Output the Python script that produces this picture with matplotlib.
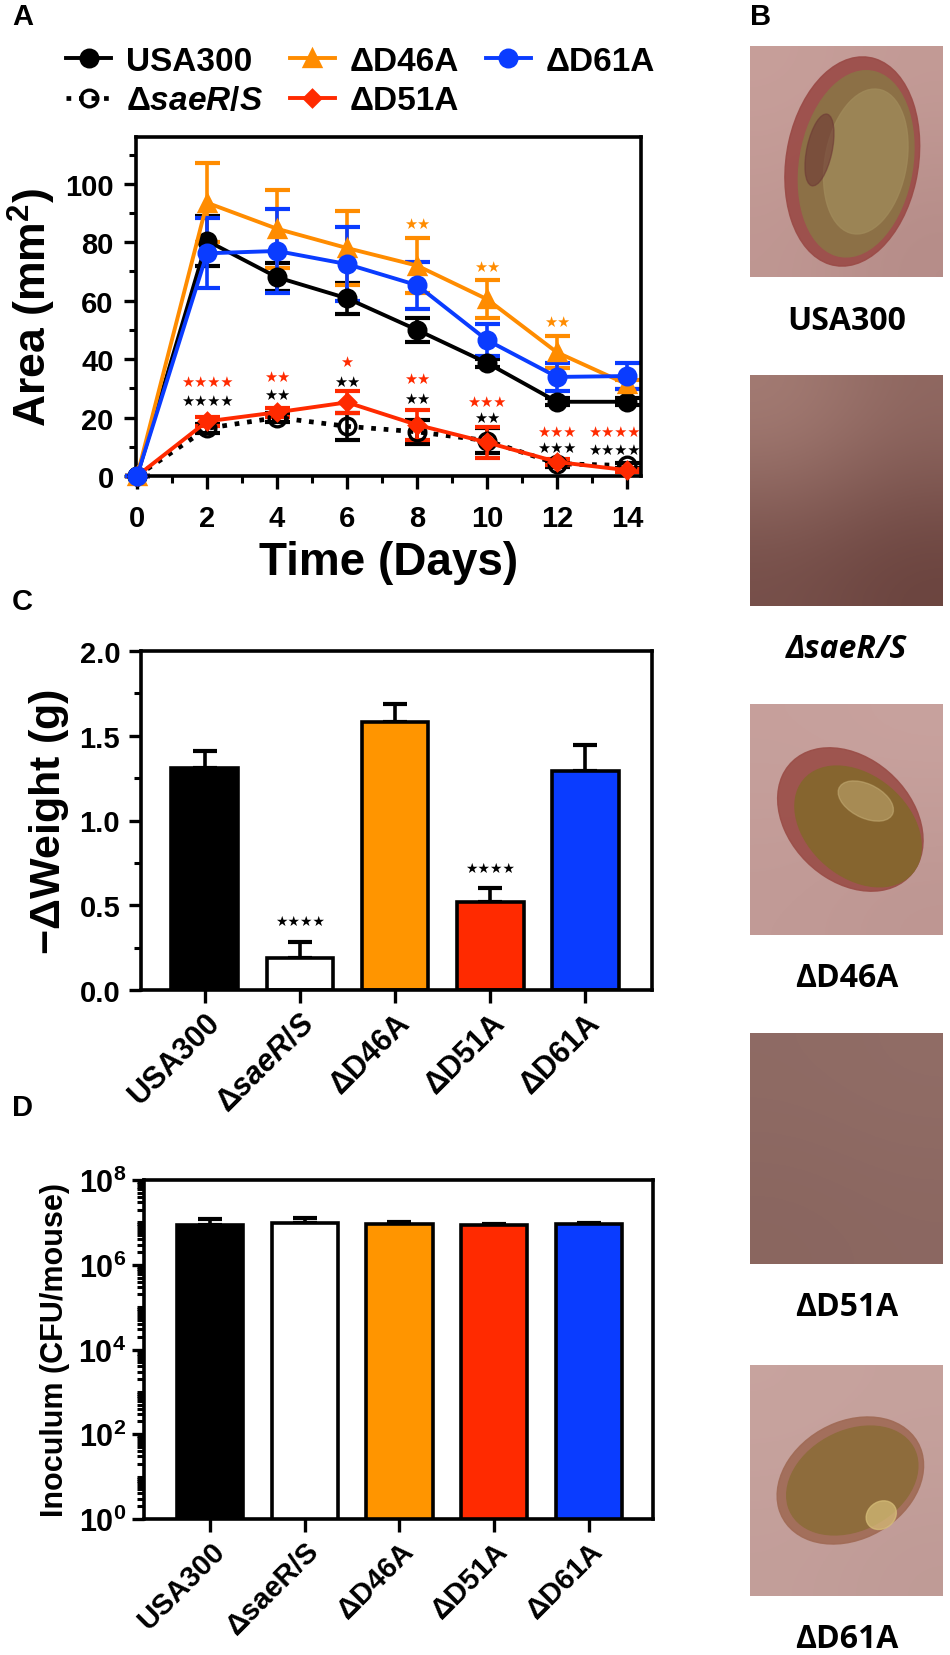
import numpy as np
import matplotlib
matplotlib.use("Agg")
import matplotlib.pyplot as plt
from matplotlib.patches import Ellipse
from matplotlib.colors import LinearSegmentedColormap
from matplotlib.ticker import MultipleLocator, LogLocator, NullFormatter, FixedLocator, FormatStrFormatter

plt.rcParams["font.family"] = ["Liberation Sans", "DejaVu Sans"]
plt.rcParams["font.weight"] = "bold"
plt.rcParams["mathtext.fontset"] = "custom"
plt.rcParams["mathtext.rm"] = "Liberation Sans:bold"
plt.rcParams["mathtext.bf"] = "Liberation Sans:bold"
plt.rcParams["mathtext.it"] = "Liberation Sans:bold:italic"

# panel A: wound area over time
days = [0, 2, 4, 6, 8, 10, 12, 14]
usa300 = [0, 80.5, 68, 60.8, 50, 38.7, 25.4, 25.4]
usa300_err = [0, 8.5, 4.8, 5.2, 4.2, 1.5, 1.2, 1.2]
saers = [0, 16.3, 20, 17, 15.1, 12.1, 4.2, 3.6]
saers_err = [0, 1.5, 1.5, 4.6, 4.2, 4.2, 1, 1]
d46a = [0, 93.5, 84.6, 78, 72, 60.5, 42.3, 31.4]
d46a_err = [0, 13.5, 13.4, 12.7, 9.5, 6.5, 5.5, 1.5]
d51a = [0, 18.7, 21.8, 25.2, 17.5, 11.5, 4.8, 2]
d51a_err = [0, 1.5, 1.5, 3.8, 5.1, 5.2, 1, 0.5]
d61a = [0, 76.2, 77, 72.5, 65.3, 46.5, 33.9, 34.2]
d61a_err = [0, 12, 14.5, 12.7, 8, 5.5, 4.8, 4.5]

star_days = [2, 4, 6, 8, 10, 12, 13.65]
red_stars = ["****", "**", "*", "**", "***", "***", "****"]
red_star_y = [32.3, 34.2, 39.3, 33.3, 25.4, 15.4, 15.4]
black_stars = ["****", "**", "**", "**", "**", "***", "****"]
black_star_y = [25.8, 27.8, 32.3, 26.6, 20, 9.7, 9.1]
orange_star_days = [8, 10, 12]
orange_stars = ["**", "**", "**"]
orange_star_y = [86.5, 71.7, 52.8]

# panel C / D
strains_c = ["USA300", "Δ$\\mathit{saeR/S}$", "ΔD46A", "ΔD51A", "ΔD61A"]
strains_d = ["USA300", "ΔsaeR/S", "ΔD46A", "ΔD51A", "ΔD61A"]
weight = [1.31, 0.19, 1.58, 0.52, 1.29]
weight_err = [0.10, 0.095, 0.105, 0.08, 0.155]
weight_stars = ["", "****", "", "****", ""]
inoculum = [8.7e6, 9.8e6, 9.3e6, 8.7e6, 9.3e6]
inoculum_err = [3.3e6, 2.8e6, 0.7e6, 0.3e6, 0.3e6]

photo_labels = ["USA300", "ΔsaeR/S", "ΔD46A", "ΔD51A", "ΔD61A"]

BLACK = "#000000"
ORANGE = "#FF8C00"
RED = "#FF2A00"
BLUE = "#0A3CFF"
bar_colors = [BLACK, "white", "#FF9500", RED, BLUE]

W, H = 950, 1656
fig = plt.figure(figsize=(9.5, 16.56), dpi=100)


def box(l, t, r, b):
    return [l / W, 1 - b / H, (r - l) / W, (b - t) / H]


def style_axes(ax, size):
    for s in ax.spines.values():
        s.set_linewidth(2.6)
    ax.tick_params(which="major", direction="out", length=9, width=2.4,
                   labelsize=size, top=False, right=False)
    ax.tick_params(which="minor", direction="out", length=5, width=2.2,
                   top=False, right=False)


def stars(s):
    return s.replace("*", "★")


# ---------- A ----------
axA = fig.add_axes(box(136, 138, 641, 477))
series = [
    ("USA300", usa300, usa300_err, BLACK, "o", "-", BLACK),
    ("Δ$\\mathit{saeR/S}$", saers, saers_err, BLACK, "o", ":", "none"),
    ("ΔD46A", d46a, d46a_err, ORANGE, "^", "-", ORANGE),
    ("ΔD51A", d51a, d51a_err, RED, "D", "-", RED),
    ("ΔD61A", d61a, d61a_err, BLUE, "o", "-", BLUE),
]
handles = {}
for name, y, e, c, m, ls, fc in series:
    ms = 8 if m == "D" else 12
    axA.errorbar(days, y, yerr=e, color=c, ecolor=c, elinewidth=2.6,
                 capsize=9, capthick=3, linestyle="none", zorder=2, clip_on=False)
    ln, = axA.plot(days, y, color=c, linestyle=ls, linewidth=2.8 if ls == "-" else 3.4,
                   marker=m, markersize=ms, markerfacecolor=fc,
                   markeredgecolor=c, markeredgewidth=2.4, zorder=3, clip_on=False)
    handles[name] = ln

for x, s, y in zip(star_days, red_stars, red_star_y):
    axA.text(x, y, stars(s), color=RED, ha="center", va="center",
             fontsize=10.5, family="DejaVu Sans")
for x, s, y in zip(star_days, black_stars, black_star_y):
    axA.text(x, y, stars(s), color=BLACK, ha="center", va="center",
             fontsize=10.5, family="DejaVu Sans")
for x, s, y in zip(orange_star_days, orange_stars, orange_star_y):
    axA.text(x, y, stars(s), color=ORANGE, ha="center", va="center",
             fontsize=10.5, family="DejaVu Sans")

axA.set_xlim(-0.03, 14.4)
axA.set_ylim(0, 116)
axA.xaxis.set_major_locator(FixedLocator(days))
axA.xaxis.set_minor_locator(FixedLocator([1, 3, 5, 7, 9, 11, 13]))
axA.yaxis.set_major_locator(FixedLocator([0, 20, 40, 60, 80, 100]))
axA.yaxis.set_minor_locator(FixedLocator([10, 30, 50, 70, 90, 110]))
style_axes(axA, 21)
axA.tick_params(axis="x", which="major", pad=11)
axA.tick_params(axis="y", which="major", pad=7)
axA.set_xlabel("Time (Days)", fontsize=33, fontweight="bold", labelpad=6)
axA.set_ylabel("Area (mm$^2$)", fontsize=32, fontweight="bold", labelpad=5)

order = ["USA300", "Δ$\\mathit{saeR/S}$", "ΔD46A", "ΔD51A", "ΔD61A"]
fig.legend([handles[k] for k in order], order, loc="upper left",
           bbox_to_anchor=(66 / W, 1 - 47 / H), ncol=3, frameon=False,
           fontsize=24, handlelength=1.35, handletextpad=0.45,
           columnspacing=0.8, labelspacing=0.25, borderpad=0, borderaxespad=0)

# ---------- C ----------
axC = fig.add_axes(box(141, 652, 652, 991))
xs = range(len(weight))
axC.bar(xs, weight, width=0.7, color=bar_colors, edgecolor=BLACK, linewidth=2.6, zorder=2)
axC.errorbar(xs, weight, yerr=[[0] * len(weight), weight_err], fmt="none",
             ecolor=BLACK, elinewidth=2.6, capsize=8.5, capthick=3, zorder=1)
for x, top, e, s in zip(xs, weight, weight_err, weight_stars):
    if s:
        axC.text(x, top + e + 0.12, stars(s), ha="center", va="center",
                 fontsize=10, family="DejaVu Sans", color=BLACK)
axC.set_xlim(-0.67, 4.7)
axC.set_ylim(0, 2.0)
axC.yaxis.set_major_locator(MultipleLocator(0.5))
axC.yaxis.set_minor_locator(MultipleLocator(0.25))
axC.yaxis.set_major_formatter(FormatStrFormatter("%.1f"))
style_axes(axC, 21)
axC.tick_params(axis="y", which="major", pad=6)
axC.set_xticks(list(xs))
axC.set_xticklabels(strains_c, rotation=45, ha="right", rotation_mode="anchor", fontsize=22)
axC.set_ylabel("$-\\Delta$Weight (g)", fontsize=31, fontweight="bold", labelpad=6)

# ---------- D ----------
axD = fig.add_axes(box(144, 1181, 653, 1520))
axD.set_yscale("log")
axD.bar(xs, inoculum, width=0.7, color=bar_colors, edgecolor=BLACK, linewidth=2.6, zorder=2)
axD.errorbar(xs, inoculum, yerr=[[0] * len(inoculum), inoculum_err], fmt="none",
             ecolor=BLACK, elinewidth=2.6, capsize=8.5, capthick=3, zorder=1)
axD.set_xlim(-0.7, 4.68)
axD.set_ylim(1, 1e8)
axD.yaxis.set_major_locator(FixedLocator([1, 1e2, 1e4, 1e6, 1e8]))
axD.set_yticklabels(["$10^0$", "$10^2$", "$10^4$", "$10^6$", "$10^8$"])
axD.yaxis.set_minor_locator(LogLocator(base=10, subs=[2, 3, 4, 5, 6, 7, 8, 9, 10], numticks=20))
axD.yaxis.set_minor_formatter(NullFormatter())
style_axes(axD, 22)
axD.tick_params(axis="y", which="minor", length=5)
axD.tick_params(axis="y", which="major", pad=4)
axD.set_xticks(list(xs))
axD.set_xticklabels(strains_d, rotation=45, ha="right", rotation_mode="anchor", fontsize=21)
axD.set_ylabel("Inoculum (CFU/mouse)", fontsize=22, fontweight="bold", labelpad=6)

# ---------- B: wound photos ----------
photo_tops = [47, 376, 705, 1034, 1366]
skin_light = ["#c9a19c", "#a47c74", "#caa4a0", "#947069", "#c9a5a0"]
skin_dark = ["#b58c88", "#6a433e", "#b8908c", "#835f59", "#b99490"]
shade = [[0.1, 0.3, 0.5, 1.0], [0.0, 0.35, 0.8, 1.0], [0.2, 0.1, 0.5, 0.7],
         [0.3, 0.6, 0.2, 0.5], [0.1, 0.2, 0.4, 0.6]]
for i, (top, lab) in enumerate(zip(photo_tops, photo_labels)):
    axP = fig.add_axes(box(750, top, 943, top + 231))
    axP.set_xlim(0, 1)
    axP.set_ylim(0, 1)
    axP.axis("off")
    cmap = LinearSegmentedColormap.from_list("skin%d" % i, [skin_light[i], skin_dark[i]])
    grad = np.array([shade[i][:2], shade[i][2:]])
    if i == 3:
        grad = grad.T
    axP.imshow(grad, cmap=cmap, vmin=0, vmax=1, extent=(0, 1, 0, 1),
               interpolation="bicubic", aspect="auto")
    if i == 0:
        axP.add_patch(Ellipse((0.53, 0.5), 0.68, 0.92, angle=-15, color="#9a4a46", alpha=0.9))
        axP.add_patch(Ellipse((0.55, 0.49), 0.58, 0.82, angle=-15, color="#8c7046"))
        axP.add_patch(Ellipse((0.6, 0.5), 0.42, 0.64, angle=-15, color="#a08a5a", alpha=0.8))
        axP.add_patch(Ellipse((0.36, 0.55), 0.13, 0.32, angle=-15, color="#6e3a36", alpha=0.6))
    elif i == 2:
        axP.add_patch(Ellipse((0.52, 0.5), 0.8, 0.56, angle=-28, color="#9a4d47", alpha=0.9))
        axP.add_patch(Ellipse((0.56, 0.47), 0.7, 0.46, angle=-28, color="#86652f"))
        axP.add_patch(Ellipse((0.6, 0.58), 0.3, 0.15, angle=-20, color="#c9b27a", alpha=0.5))
    elif i == 4:
        axP.add_patch(Ellipse((0.52, 0.5), 0.78, 0.52, angle=18, color="#a06a55", alpha=0.9))
        axP.add_patch(Ellipse((0.53, 0.5), 0.7, 0.44, angle=18, color="#8e6c3c"))
        axP.add_patch(Ellipse((0.68, 0.35), 0.16, 0.12, angle=18, color="#d8c07a", alpha=0.7))
    fig.text(846.5 / W, 1 - (top + 274) / H, lab, ha="center", va="center",
             fontsize=23, fontweight="bold", family=["Open Sans", "DejaVu Sans"],
             style="italic" if i == 1 else "normal")

for lbl, x, y in [("A", 12, 17), ("C", 12, 602), ("D", 12, 1108)]:
    fig.text(x / W, 1 - y / H, lbl, ha="left", va="center", fontsize=21, fontweight="bold")
fig.text(750 / W, 1 - 17 / H, "B", ha="left", va="center", fontsize=21, fontweight="bold")

fig.savefig("out.png", dpi=100, facecolor="white")
